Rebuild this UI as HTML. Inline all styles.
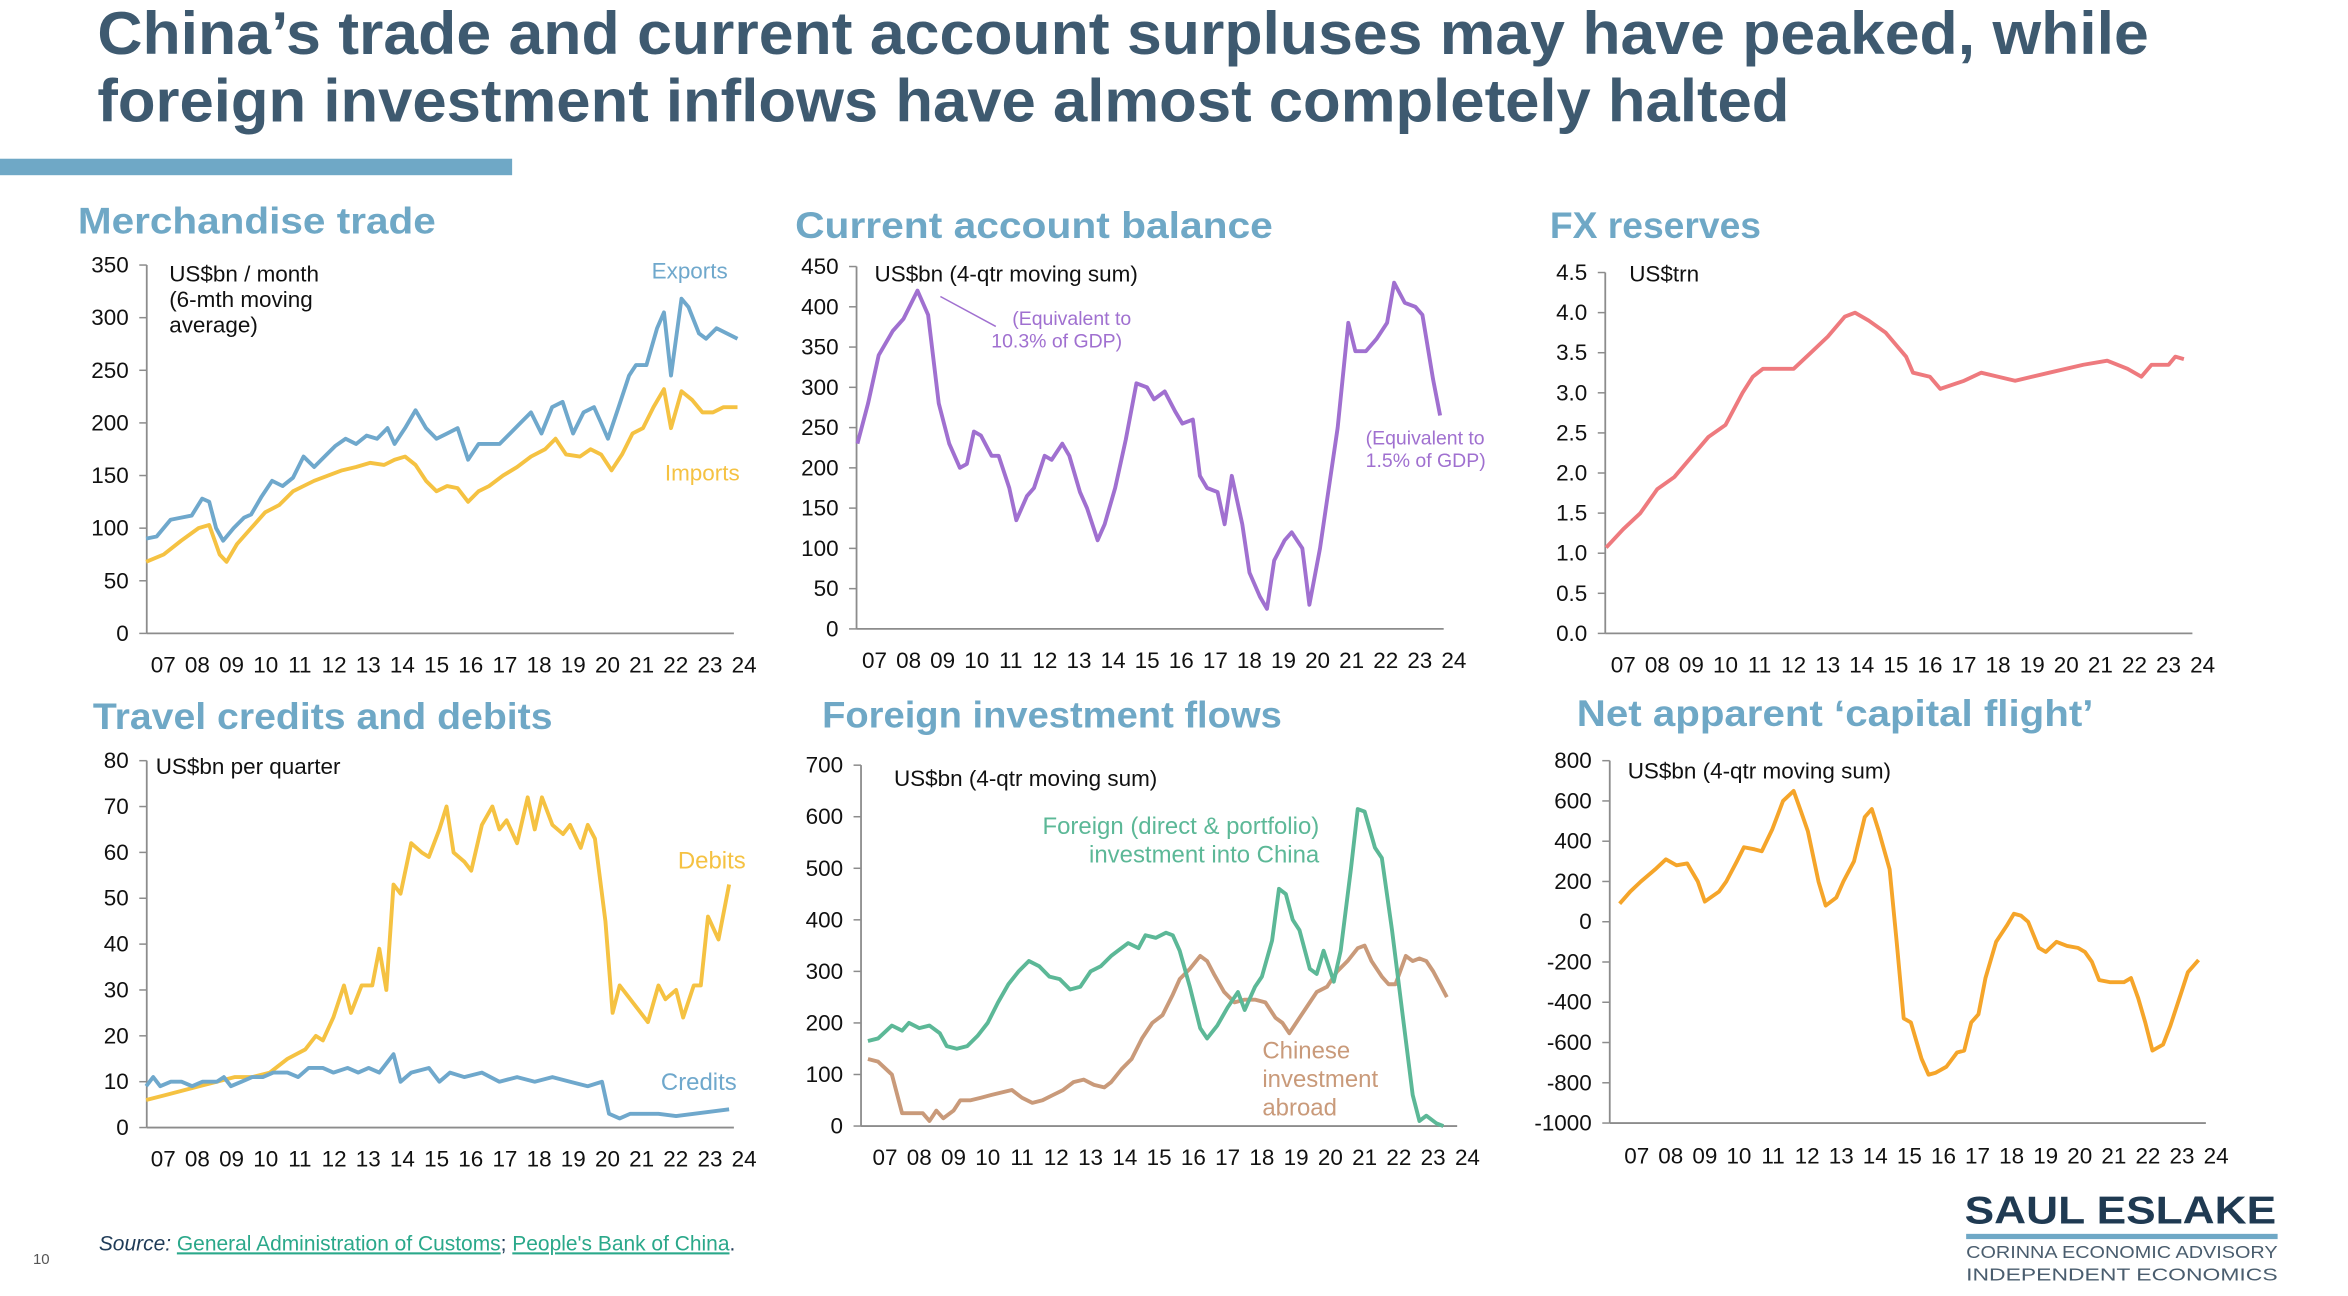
<!DOCTYPE html>
<html><head><meta charset="utf-8"><style>
html,body{margin:0;padding:0;background:#fff}
svg{display:block}
text{font-family:"Liberation Sans",sans-serif}
</style></head><body>
<svg id="s" width="2348" height="1296" viewBox="0 0 1568 865.5" preserveAspectRatio="none" xmlns="http://www.w3.org/2000/svg">
<rect width="1568" height="866" fill="#fff"/>
<text x="65" y="36" font-size="40" font-weight="bold" fill="#3e5a70" textLength="1370" lengthAdjust="spacingAndGlyphs">China’s trade and current account surpluses may have peaked, while</text>
<text x="65" y="81" font-size="40" font-weight="bold" fill="#3e5a70" textLength="1130" lengthAdjust="spacingAndGlyphs">foreign investment inflows have almost completely halted</text>
<rect x="0" y="106" width="342" height="11" fill="#6fa8c6"/>
<g font-size="25" font-weight="bold" fill="#6fa8c6">
<text x="52" y="156" textLength="239" lengthAdjust="spacingAndGlyphs">Merchandise trade</text>
<text x="531" y="159" textLength="319" lengthAdjust="spacingAndGlyphs">Current account balance</text>
<text x="1035" y="159" textLength="141" lengthAdjust="spacingAndGlyphs">FX reserves</text>
<text x="62" y="487" textLength="307" lengthAdjust="spacingAndGlyphs">Travel credits and debits</text>
<text x="549" y="486" textLength="307" lengthAdjust="spacingAndGlyphs">Foreign investment flows</text>
<text x="1053" y="485" textLength="345" lengthAdjust="spacingAndGlyphs">Net apparent ‘capital flight’</text>
</g>
<g id="charts"></g>
<text x="66" y="835" font-size="14" font-style="italic" fill="#1f3b57">Source: <tspan fill="#2aa88a" text-decoration="underline" font-style="normal">General Administration of Customs</tspan><tspan font-style="normal">; </tspan><tspan fill="#2aa88a" text-decoration="underline" font-style="normal">People's Bank of China</tspan><tspan font-style="normal">.</tspan></text>
<text x="22" y="844" font-size="10" fill="#555">10</text>
<text x="1312" y="817" font-size="26" font-weight="bold" fill="#1f3a52" textLength="208" lengthAdjust="spacingAndGlyphs">SAUL ESLAKE</text>
<rect x="1313" y="824" width="208" height="3.5" fill="#6fa8c6"/>
<text x="1313" y="840" font-size="11.5" fill="#4a5d6e" textLength="208" lengthAdjust="spacingAndGlyphs">CORINNA ECONOMIC ADVISORY</text>
<text x="1313" y="855" font-size="11.5" fill="#4a5d6e" textLength="208" lengthAdjust="spacingAndGlyphs">INDEPENDENT ECONOMICS</text>
</svg>
<script>
const NS="http://www.w3.org/2000/svg",G=document.getElementById('charts');
function el(t,a,txt){const e=document.createElementNS(NS,t);for(const k in a)e.setAttribute(k,a[k]);if(txt!==undefined)e.textContent=txt;G.appendChild(e);return e;}
function chart(c){
 const k=c.k||1;
 const yv=v=>c.y0+(v-c.vmin)*(c.y1-c.y0)/(c.vmax-c.vmin);
 const xv=t=>c.x07+(t-2007.5)*c.dx;
 const xs=t=>xv(2007+(t-2007)*k);
 el('line',{x1:c.ax,y1:c.y1,x2:c.ax,y2:c.y0,stroke:'#8c8c8c','stroke-width':1.2});
 el('line',{x1:c.ax,y1:c.y0,x2:xv(2024.2),y2:c.y0,stroke:'#8c8c8c','stroke-width':1.2});
 for(let v=c.vmin;v<=c.vmax+1e-9;v+=c.step){const y=yv(v);
  el('line',{x1:c.ax-5,y1:y,x2:c.ax,y2:y,stroke:'#8c8c8c','stroke-width':1});
  el('text',{x:c.ax-12,y:y+5,'font-size':15,'text-anchor':'end',fill:'#111'},c.fmt?c.fmt(v):String(v));}
 for(let i=0;i<18;i++){const yr=7+i;el('text',{x:c.x07+i*c.dx,y:c.xl,'font-size':15,'text-anchor':'middle',fill:'#111'},(yr<10?'0':'')+yr);}
 c.series.forEach(s=>{let d='';s.d.forEach((p,i)=>{d+=(i?'L':'M')+xs(p[0]).toFixed(1)+','+yv(p[1]).toFixed(1);});
  el('path',{d:d,fill:'none',stroke:s.c,'stroke-width':2.6,'stroke-linejoin':'round'});});
}
function P(a){const r=[];for(let i=0;i<a.length;i+=2)r.push([a[i],a[i+1]]);return r;}
chart({k:1.024,ax:98,y0:423,y1:177,vmin:0,vmax:350,step:50,x07:109,dx:22.82,xl:449,series:[
{c:'#6fa8cc',d:P([2007,90,2007.3,92,2007.7,108,2008,110,2008.3,112,2008.6,128,2008.8,125,2009,100,2009.2,88,2009.5,100,2009.8,110,2010,113,2010.3,130,2010.6,145,2010.9,140,2011.2,148,2011.5,168,2011.8,158,2012.1,168,2012.4,178,2012.7,185,2013,180,2013.3,188,2013.6,185,2013.9,195,2014.1,180,2014.4,195,2014.7,212,2015,195,2015.3,185,2015.6,190,2015.9,195,2016.2,165,2016.5,180,2016.8,180,2017.1,180,2017.4,190,2017.7,200,2018,210,2018.3,190,2018.6,215,2018.9,220,2019.2,190,2019.5,210,2019.8,215,2020,200,2020.2,185,2020.5,215,2020.8,245,2021,255,2021.3,255,2021.6,290,2021.8,305,2022,245,2022.3,318,2022.5,310,2022.8,285,2023,280,2023.3,290,2023.6,285,2023.9,280])},
{c:'#f5c242',d:P([2007,68,2007.5,75,2008,88,2008.5,100,2008.8,103,2009.1,75,2009.3,68,2009.6,85,2010,100,2010.4,115,2010.8,122,2011.2,135,2011.5,140,2011.8,145,2012.2,150,2012.6,155,2013,158,2013.4,162,2013.8,160,2014.1,165,2014.4,168,2014.7,160,2015,145,2015.3,135,2015.6,140,2015.9,138,2016.2,125,2016.5,135,2016.8,140,2017.2,150,2017.6,158,2018,168,2018.4,175,2018.7,185,2019,170,2019.4,168,2019.7,175,2020,170,2020.3,155,2020.6,170,2020.9,190,2021.2,195,2021.5,215,2021.8,232,2022,195,2022.3,230,2022.6,222,2022.9,210,2023.2,210,2023.5,215,2023.9,215])}]});
chart({k:1.036,ax:572,y0:420,y1:178,vmin:0,vmax:450,step:50,x07:584,dx:22.76,xl:446,series:[
{c:'#a070d0',d:P([2007,230,2007.3,280,2007.6,340,2008,370,2008.3,385,2008.7,420,2009,390,2009.3,280,2009.6,230,2009.9,200,2010.1,205,2010.3,245,2010.5,240,2010.8,215,2011,215,2011.3,175,2011.5,135,2011.8,165,2012,175,2012.3,215,2012.5,210,2012.8,230,2013,215,2013.3,170,2013.5,150,2013.8,110,2014,130,2014.3,175,2014.6,235,2014.9,305,2015.2,300,2015.4,285,2015.7,295,2016,270,2016.2,255,2016.5,260,2016.7,190,2016.9,175,2017.2,170,2017.4,130,2017.6,190,2017.9,130,2018.1,70,2018.4,40,2018.6,25,2018.8,85,2019.1,110,2019.3,120,2019.6,100,2019.8,30,2020.1,100,2020.3,160,2020.6,250,2020.9,380,2021.1,345,2021.4,345,2021.7,360,2022,380,2022.2,430,2022.5,405,2022.8,400,2023,390,2023.3,310,2023.5,265])}]});
chart({ax:1072,y0:423,y1:182,vmin:0,vmax:4.5,step:0.5,fmt:v=>v.toFixed(1),x07:1084,dx:22.76,xl:449,series:[
{c:'#ee7a7e',d:P([2007,1.07,2007.5,1.3,2008,1.5,2008.5,1.8,2009,1.95,2009.5,2.2,2010,2.45,2010.5,2.6,2011,3.0,2011.3,3.2,2011.6,3.3,2012,3.3,2012.5,3.3,2013,3.5,2013.5,3.7,2014,3.95,2014.3,4.0,2014.7,3.9,2015.2,3.75,2015.5,3.6,2015.8,3.45,2016,3.25,2016.5,3.2,2016.8,3.05,2017.5,3.15,2018,3.25,2018.5,3.2,2019,3.15,2020,3.25,2021,3.35,2021.7,3.4,2022.3,3.3,2022.7,3.2,2023,3.35,2023.5,3.35,2023.7,3.45,2023.95,3.42])}]});
chart({k:1.034,ax:98,y0:753,y1:508,vmin:0,vmax:80,step:10,x07:109,dx:22.82,xl:779,series:[
{c:'#f5c242',d:P([2007,6,2007.5,7,2008,8,2008.5,9,2009,10,2009.5,11,2010,11,2010.5,12,2011,15,2011.5,17,2011.8,20,2012,19,2012.3,24,2012.6,31,2012.8,25,2013.1,31,2013.4,31,2013.6,39,2013.8,30,2014,53,2014.2,51,2014.5,62,2014.8,60,2015,59,2015.3,65,2015.5,70,2015.7,60,2016,58,2016.2,56,2016.5,66,2016.8,70,2017,65,2017.2,67,2017.5,62,2017.8,72,2018,65,2018.2,72,2018.5,66,2018.8,64,2019,66,2019.3,61,2019.5,66,2019.7,63,2020,45,2020.2,25,2020.4,31,2020.7,28,2021,25,2021.2,23,2021.5,31,2021.7,28,2022,30,2022.2,24,2022.5,31,2022.7,31,2022.9,46,2023.2,41,2023.5,53])},
{c:'#6fa8cc',d:P([2007,9,2007.2,11,2007.4,9,2007.7,10,2008,10,2008.3,9,2008.6,10,2009,10,2009.2,11,2009.4,9,2009.7,10,2010,11,2010.3,11,2010.6,12,2011,12,2011.3,11,2011.6,13,2012,13,2012.3,12,2012.7,13,2013,12,2013.3,13,2013.6,12,2014,16,2014.2,10,2014.5,12,2015,13,2015.3,10,2015.6,12,2016,11,2016.5,12,2017,10,2017.5,11,2018,10,2018.5,11,2019,10,2019.5,9,2019.9,10,2020.1,3,2020.4,2,2020.7,3,2021,3,2021.5,3,2022,2.5,2022.5,3,2023,3.5,2023.5,4])}]});
chart({ax:575,y0:752,y1:511,vmin:0,vmax:700,step:100,x07:591,dx:22.88,xl:778,series:[
{c:'#c99a7a',d:P([2007,130,2007.3,125,2007.7,100,2008,25,2008.3,25,2008.6,25,2008.8,10,2009,30,2009.2,15,2009.5,30,2009.7,50,2010,50,2010.3,55,2010.6,60,2010.9,65,2011.2,70,2011.5,55,2011.8,45,2012.1,50,2012.4,60,2012.7,70,2013,85,2013.3,90,2013.6,80,2013.9,75,2014.1,85,2014.4,110,2014.7,130,2015,170,2015.3,200,2015.6,215,2015.9,255,2016.1,285,2016.4,305,2016.7,330,2016.9,320,2017.1,295,2017.4,260,2017.7,240,2018,245,2018.3,245,2018.6,240,2018.9,210,2019.1,200,2019.3,180,2019.6,210,2019.9,240,2020.1,260,2020.4,270,2020.7,300,2021,320,2021.3,345,2021.5,350,2021.7,320,2022,290,2022.2,275,2022.4,275,2022.7,330,2022.9,320,2023.1,325,2023.3,320,2023.5,300,2023.7,275,2023.9,250])},
{c:'#5cb897',d:P([2007,165,2007.3,170,2007.7,195,2008,185,2008.2,200,2008.5,190,2008.8,195,2009.1,180,2009.3,155,2009.6,150,2009.9,155,2010.2,175,2010.5,200,2010.8,240,2011.1,275,2011.4,300,2011.7,320,2012,310,2012.3,290,2012.6,285,2012.9,265,2013.2,270,2013.5,300,2013.8,310,2014.1,330,2014.3,340,2014.6,355,2014.9,345,2015.1,370,2015.4,365,2015.7,375,2015.9,370,2016.1,340,2016.4,270,2016.7,190,2016.9,170,2017.2,195,2017.5,230,2017.8,260,2018,225,2018.3,270,2018.5,290,2018.8,360,2019,460,2019.2,450,2019.4,400,2019.6,380,2019.9,305,2020.1,295,2020.3,340,2020.6,280,2020.8,340,2021.1,500,2021.3,615,2021.5,610,2021.8,540,2022,520,2022.3,380,2022.6,220,2022.9,60,2023.1,10,2023.3,20,2023.6,5,2023.8,0])}]});
chart({k:1.042,ax:1075,y0:750,y1:508,vmin:-1000,vmax:800,step:200,x07:1093,dx:22.76,xl:777,series:[
{c:'#f5a52a',d:P([2007,90,2007.3,150,2007.6,200,2008,260,2008.3,310,2008.6,280,2008.9,290,2009.2,200,2009.4,100,2009.8,150,2010,200,2010.3,300,2010.5,370,2010.8,360,2011,350,2011.3,460,2011.6,600,2011.9,650,2012.1,550,2012.3,450,2012.6,200,2012.8,80,2013.1,120,2013.3,200,2013.6,300,2013.9,520,2014.1,560,2014.3,450,2014.6,260,2014.8,-100,2015,-480,2015.2,-500,2015.5,-680,2015.7,-760,2015.9,-750,2016.2,-720,2016.5,-650,2016.7,-640,2016.9,-500,2017.1,-460,2017.3,-280,2017.6,-100,2017.9,-20,2018.1,40,2018.3,30,2018.5,0,2018.8,-130,2019,-150,2019.3,-100,2019.6,-120,2019.9,-130,2020.1,-150,2020.3,-200,2020.5,-290,2020.8,-300,2021.2,-300,2021.4,-280,2021.6,-380,2021.8,-500,2022,-640,2022.3,-610,2022.5,-520,2022.8,-360,2023,-250,2023.3,-190])}]});
const A=[[113,188,'US$bn / month','#111',15,'start'],[113,205,'(6-mth moving','#111',15,'start'],[113,222,'average)','#111',15,'start'],
[486,186,'Exports','#6fa8cc',15,'end'],[494,321,'Imports','#f5c242',15,'end'],
[584,188,'US$bn (4-qtr moving sum)','#111',15,'start'],[676,217,'(Equivalent to','#a070d0',13,'start'],[662,232,'10.3% of GDP)','#a070d0',13,'start'],
[912,297,'(Equivalent to','#a070d0',13,'start'],[912,312,'1.5% of GDP)','#a070d0',13,'start'],
[1088,188,'US$trn','#111',15,'start'],
[104,517,'US$bn per quarter','#111',15,'start'],[498,580,'Debits','#f5c242',16,'end'],[492,728,'Credits','#6fa8cc',16,'end'],
[597,525,'US$bn (4-qtr moving sum)','#111',15,'start'],[881,557,'Foreign (direct & portfolio)','#5cb897',16,'end'],[881,576,'investment into China','#5cb897',16,'end'],
[843,707,'Chinese','#c99a7a',16,'start'],[843,726,'investment','#c99a7a',16,'start'],[843,745,'abroad','#c99a7a',16,'start'],
[1087,520,'US$bn (4-qtr moving sum)','#111',15,'start']];
A.forEach(a=>el('text',{x:a[0],y:a[1],'font-size':a[4],fill:a[3],'text-anchor':a[5]},a[2]));
el('line',{x1:628,y1:198,x2:665,y2:218,stroke:'#a070d0','stroke-width':1});
</script>
</body></html>
